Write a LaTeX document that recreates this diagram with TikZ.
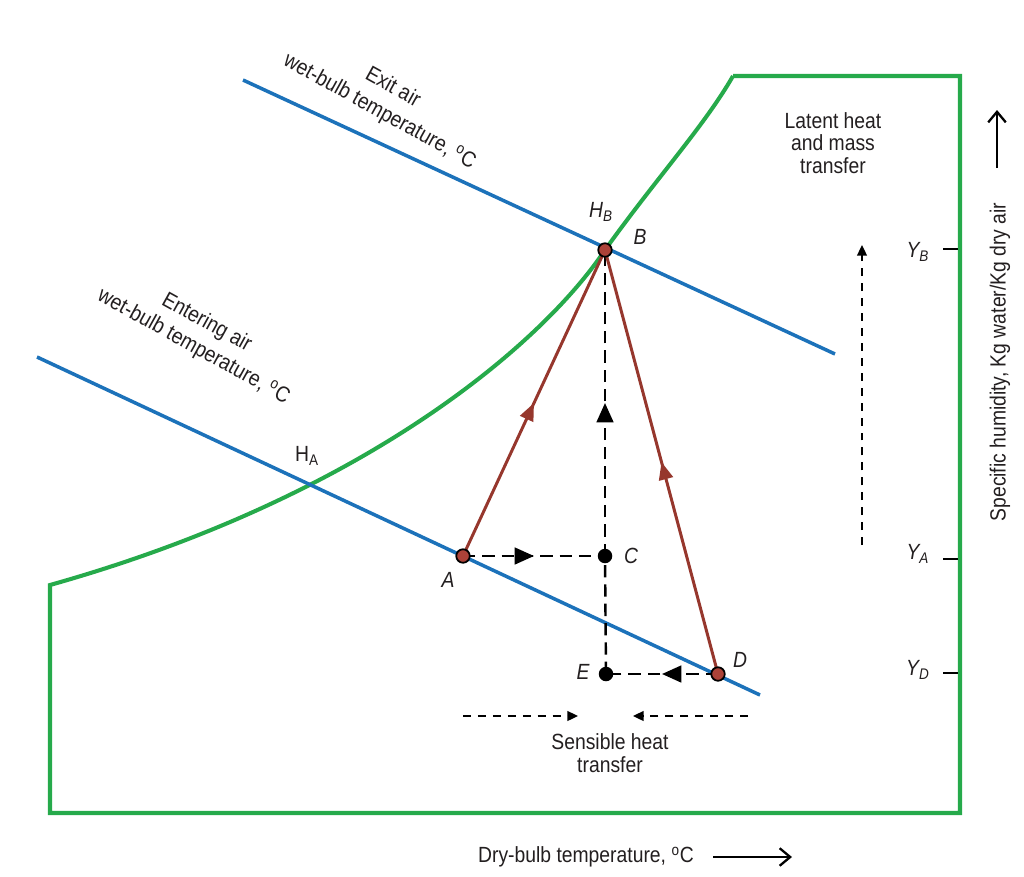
\documentclass[tikz,border=0pt]{standalone}
\usepackage{fontspec}
\setmainfont{Liberation Sans}[FakeStretch=0.88]
\usetikzlibrary{arrows.meta,decorations.markings}
\definecolor{gcol}{RGB}{38,170,75}
\definecolor{bcol}{RGB}{28,114,186}
\definecolor{rcol}{RGB}{150,55,45}
\definecolor{rfill}{RGB}{172,66,56}
\definecolor{tcol}{RGB}{35,31,32}
\tikzset{
  greenline/.style={draw=gcol,line width=2.3pt,line join=miter},
  blueline/.style={draw=bcol,line width=2pt},
  redarrowline/.style={draw=rcol,line width=1.7pt,postaction={decorate},
    decoration={markings,mark=at position #1 with {\arrow[rcol]{Triangle[length=10pt,width=8pt]}}}},
  blackdash/.style={draw=black,line width=1.4pt,dash pattern=on 7pt off 4pt},
  blackmid/.style={postaction={decorate},
    decoration={markings,mark=at position #1 with {\arrow[black]{Triangle[length=11pt,width=9.5pt]}}}},
  thindash/.style={draw=black,line width=1.1pt,dash pattern=on 4.5pt off 4pt,-{Triangle[length=6pt,width=5.5pt]}},
  reddot/.style={circle,draw=black,fill=rfill,line width=1pt,inner sep=0pt,minimum size=2.7mm},
  blackdot/.style={circle,fill=black,inner sep=0pt,minimum size=2.9mm},
  lbl/.style={text=tcol,inner sep=1pt},
  rotlbl/.style={text=tcol,inner sep=1pt,rotate=-29,align=center,font=\fontsize{12.5}{15.5}\selectfont},
  ilbl/.style={text=tcol,inner sep=1pt,font=\fontsize{12.5}{13}\selectfont\itshape},
  axisarrow/.style={draw=black,line width=1.3pt,-{Straight Barb[length=6pt,width=10pt]}},
  tick/.style={draw=black,line width=1.6pt}
}
\begin{document}
\begin{tikzpicture}[x=0.2mm,y=-0.2mm,font=\fontsize{12.5}{13}\selectfont]
\useasboundingbox (0,0) rectangle (1024,877);
% main points
\coordinate (A) at (463,556);
\coordinate (B) at (605,250);
\coordinate (C) at (605,556);
\coordinate (E) at (606,674);
\coordinate (D) at (718,674);
% blue line ends
\coordinate (x1) at (243,80);
\coordinate (x2) at (835,354);
\coordinate (e1) at (37,357);
\coordinate (e2) at (760,695);
% green boundary
\draw[greenline] (733,76) -- (960,76) -- (960,813) -- (50,813) -- (50,585)
  .. controls (370,495) and (545,340) .. (605,250)
  .. controls (655,180) and (705,125) .. (733,76);
% blue wet-bulb lines
\draw[blueline] (x1) -- (x2);
\draw[blueline] (e1) -- (e2);
% dashed black paths
\draw[blackdash,blackmid=0.5] (A) -- (C);
\draw[blackdash] (E) -- (C);
\draw[blackdash,blackmid=0.5] (C) -- (B);
\draw[blackdash,blackmid=0.5] (D) -- (E);
% red paths
\draw[redarrowline=0.5] (A) -- (B);
\draw[redarrowline=0.5] (D) -- (B);
% dots
\node[reddot] (pA) at (A) {};
\node[reddot] (pB) at (B) {};
\node[reddot] (pD) at (D) {};
\node[blackdot] (pC) at (C) {};
\node[blackdot] (pE) at (E) {};
% point labels
\node[ilbl] (lA) at (448,580) {A};
\node[ilbl] (lB) at (640,237) {B};
\node[ilbl] (lC) at (631,556) {C};
\node[ilbl] (lD) at (740,660) {D};
\node[ilbl] (lE) at (583,672) {E};
\node[ilbl] (lHB) at (601,212) {H\textsubscript{B}};
\node[lbl] (lHA) at (307,456) {H\textsubscript{A}};
% wet-bulb labels
\node[rotlbl] (exitlab) at (386,100) {Exit air\\wet-bulb temperature, \textsuperscript{o}C};
\node[rotlbl] (entlab) at (200,335) {Entering air\\wet-bulb temperature, \textsuperscript{o}C};
% latent
\node[lbl,align=center] (latent) at (833,143) {Latent heat\\and mass\\transfer};
% right axis
\coordinate (tB1) at (943,249); \coordinate (tB2) at (958,249);
\coordinate (tA1) at (943,559); \coordinate (tA2) at (958,559);
\coordinate (tD1) at (943,673); \coordinate (tD2) at (958,673);
\draw[tick] (tB1) -- (tB2);
\draw[tick] (tA1) -- (tA2);
\draw[tick] (tD1) -- (tD2);
\node[ilbl] (lYB) at (918,252) {Y\textsubscript{B}};
\node[ilbl] (lYA) at (918,554) {Y\textsubscript{A}};
\node[ilbl] (lYD) at (918,670) {Y\textsubscript{D}};
\coordinate (ly1) at (862,545); \coordinate (ly2) at (862,245);
\draw[thindash] (ly1) -- (ly2);
\node[lbl,rotate=90] (ylab) at (1000,362) {Specific humidity, Kg water/Kg dry air};
\coordinate (ya1) at (997,168); \coordinate (ya2) at (997,110);
\draw[axisarrow] (ya1) -- (ya2);
% sensible heat
\coordinate (s1) at (463,716); \coordinate (s2) at (578,716);
\coordinate (s3) at (748,716); \coordinate (s4) at (633,716);
\draw[thindash] (s1) -- (s2);
\draw[thindash] (s3) -- (s4);
\node[lbl,align=center] (sens) at (610,753) {Sensible heat\\transfer};
% x axis
\node[lbl] (xlab) at (586,857) {Dry-bulb temperature, \textsuperscript{o}C};
\coordinate (xa1) at (713,857); \coordinate (xa2) at (792,857);
\draw[axisarrow] (xa1) -- (xa2);
\end{tikzpicture}
\end{document}
